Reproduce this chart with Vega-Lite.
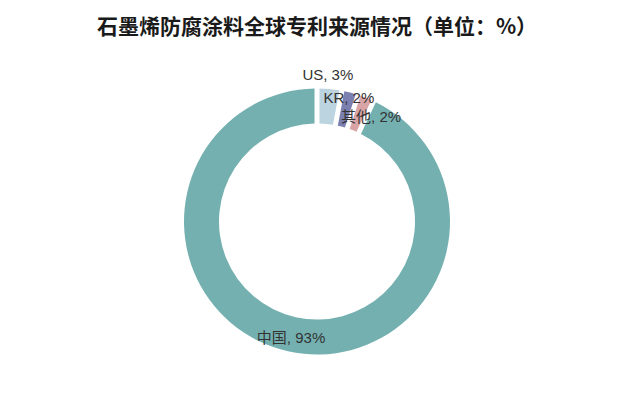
{
  "$schema": "https://vega.github.io/schema/vega-lite/v6.json",
  "width": 640,
  "height": 400,
  "autosize": {"type": "fit", "contains": "padding"},
  "padding": {"top": 17, "bottom": 0, "left": 0, "right": 6},
  "background": "white",
  "config": {"view": {"stroke": null}},
  "title": {
    "text": "石墨烯防腐涂料全球专利来源情况（单位：%）",
    "font": "Noto Sans CJK SC",
    "fontSize": 21,
    "fontWeight": "bold",
    "color": "#1a1a1a",
    "anchor": "middle",
    "offset": 5
  },
  "data": {
    "values": [
      {"seq": 1, "source": "US", "share": 3, "label": "US, 3%"},
      {"seq": 2, "source": "KR", "share": 2, "label": "KR, 2%"},
      {"seq": 3, "source": "其他", "share": 2, "label": "其他, 2%"},
      {"seq": 4, "source": "中国", "share": 93, "label": "中国, 93%"}
    ]
  },
  "encoding": {
    "theta": {"field": "share", "type": "quantitative", "stack": true},
    "order": {"field": "seq", "type": "quantitative"}
  },
  "layer": [
    {
      "mark": {"type": "arc", "outerRadius": 133, "innerRadius": 98, "padAngle": 0.03},
      "encoding": {
        "color": {
          "field": "source",
          "type": "nominal",
          "scale": {"domain": ["US", "KR", "其他", "中国"], "range": ["#bcd4df", "#7c80b0", "#d8a4a6", "#74b0b0"]},
          "legend": null
        }
      }
    },
    {
      "mark": {"type": "text", "font": "Liberation Sans, Noto Sans CJK SC", "fontSize": 15, "color": "#333333", "radius": 147, "dx": -3},
      "encoding": {
        "text": {"condition": {"test": "datum.source === 'US'", "field": "label"}, "value": ""}
      }
    },
    {
      "mark": {"type": "text", "font": "Liberation Sans, Noto Sans CJK SC", "fontSize": 15, "color": "#333333", "radius": 128, "dx": 0},
      "encoding": {
        "text": {"condition": {"test": "datum.source === 'KR'", "field": "label"}, "value": ""}
      }
    },
    {
      "mark": {"type": "text", "font": "Liberation Sans, Noto Sans CJK SC", "fontSize": 15, "color": "#333333", "radius": 117, "dx": 11, "dy": 4},
      "encoding": {
        "text": {"condition": {"test": "datum.source === '其他'", "field": "label"}, "value": ""}
      }
    },
    {
      "mark": {"type": "text", "font": "Liberation Sans, Noto Sans CJK SC", "fontSize": 15, "color": "#333333", "radius": 119},
      "encoding": {
        "text": {"condition": {"test": "datum.source === '中国'", "field": "label"}, "value": ""}
      }
    }
  ]
}
